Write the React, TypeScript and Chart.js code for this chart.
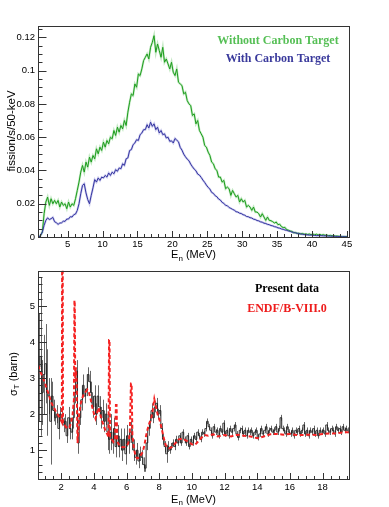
import React, { useEffect, useRef } from "react";
import { Chart, registerables } from "chart.js";
Chart.register(...registerables);

// ---------------- Top panel: fission rate (bins of 0.25 MeV starting at 0.75 MeV)
const TOP_BIN_START = 0.75;
const TOP_BIN_WIDTH = 0.25;
const withoutCarbon = [
  0,
  0.001, 0.003, 0.014, 0.021,
  0.024, 0.019, 0.023, 0.020,
  0.022, 0.020, 0.022, 0.018,
  0.021, 0.019, 0.020, 0.017,
  0.021, 0.018, 0.020, 0.019,
  0.023, 0.028, 0.033, 0.039,
  0.043, 0.039, 0.045, 0.042,
  0.048, 0.045, 0.049, 0.047,
  0.053, 0.050, 0.054, 0.052,
  0.057, 0.054, 0.058, 0.056,
  0.060, 0.059, 0.064, 0.061,
  0.066, 0.063, 0.067, 0.065,
  0.070, 0.067, 0.075, 0.081,
  0.086, 0.085, 0.092, 0.090,
  0.098, 0.097, 0.101, 0.106,
  0.108, 0.110, 0.107, 0.114,
  0.117, 0.121, 0.111, 0.116,
  0.112, 0.108, 0.114, 0.105,
  0.107, 0.104, 0.101, 0.105,
  0.099, 0.097, 0.101, 0.093,
  0.092, 0.091, 0.086, 0.087,
  0.082, 0.080, 0.079, 0.073,
  0.074, 0.068, 0.070, 0.064,
  0.062, 0.060, 0.055, 0.054,
  0.051, 0.049, 0.045, 0.044,
  0.041, 0.040, 0.036, 0.036,
  0.033, 0.034, 0.029, 0.030,
  0.029, 0.025, 0.028, 0.026,
  0.024, 0.025, 0.021, 0.023,
  0.021, 0.022, 0.018, 0.019,
  0.018, 0.016, 0.018, 0.015,
  0.015, 0.014, 0.012, 0.014,
  0.012, 0.010, 0.012, 0.010,
  0.0098, 0.0092, 0.0084, 0.0090,
  0.0074, 0.0077, 0.0062, 0.0057,
  0.0058, 0.0044, 0.0041, 0.0036,
  0.0034, 0.0025, 0.0027, 0.0021,
  0.0023, 0.0018, 0.0021, 0.0016,
  0.0019, 0.0015, 0.0018, 0.0014,
  0.0018, 0.0013, 0.0017, 0.0012,
  0.0016, 0.0011, 0.0014, 0.0010,
  0.0012, 0.0008, 0.0010, 0.0007,
  0.0008, 0.0005, 0.0006, 0.0004,
  0.0004, 0.0002, 0.0003, 0.0002,
  0.0002,
];
const withCarbon = [
  0,
  0.001, 0.003, 0.007, 0.010,
  0.0115, 0.0105, 0.011, 0.0118,
  0.0092, 0.0086, 0.0076, 0.0084,
  0.0085, 0.0095, 0.0094, 0.0108,
  0.0108, 0.0122, 0.0120, 0.0134,
  0.0138, 0.0160, 0.0200, 0.0260,
  0.0310, 0.0320, 0.0265, 0.0225,
  0.0200, 0.0250, 0.0295, 0.0345,
  0.0330, 0.0355, 0.0340, 0.0360,
  0.0355, 0.0370, 0.0360, 0.0385,
  0.0370, 0.0390, 0.0380, 0.0405,
  0.0395, 0.0415, 0.0410, 0.0440,
  0.0430, 0.0470, 0.0475, 0.0520,
  0.0525, 0.0555, 0.0565, 0.0585,
  0.0580, 0.0615, 0.0625, 0.0645,
  0.0645, 0.0675, 0.0655, 0.0690,
  0.0665, 0.0680, 0.0645, 0.0660,
  0.0625, 0.0640, 0.0615, 0.0620,
  0.0595, 0.0600, 0.0575, 0.0578,
  0.0565, 0.0592, 0.0582, 0.0572,
  0.0538, 0.0522, 0.0498, 0.0482,
  0.0468, 0.0458, 0.0438, 0.0422,
  0.0408, 0.0398, 0.0378, 0.0372,
  0.0358, 0.0342, 0.0328, 0.0312,
  0.0298, 0.0288, 0.0268, 0.0262,
  0.0248, 0.0242, 0.0228, 0.0222,
  0.0208, 0.0202, 0.0190, 0.0188,
  0.0177, 0.0172, 0.0166, 0.0161,
  0.0152, 0.0150, 0.0143, 0.0141,
  0.0134, 0.0131, 0.0123, 0.0122,
  0.0116, 0.0114, 0.0107, 0.0105,
  0.0099, 0.0097, 0.0091, 0.0089,
  0.0083, 0.0081, 0.0076, 0.0074,
  0.0069, 0.0067, 0.0062, 0.0060,
  0.0055, 0.0053, 0.0048, 0.0046,
  0.0042, 0.0040, 0.0036, 0.0034,
  0.0029, 0.0028, 0.0024, 0.0023,
  0.0019, 0.0019, 0.0016, 0.0016,
  0.0013, 0.0013, 0.0011, 0.0012,
  0.0010, 0.0010, 0.0008, 0.0009,
  0.0008, 0.0008, 0.0007, 0.0007,
  0.0006, 0.0006, 0.0005, 0.0005,
  0.0004, 0.0004, 0.0003, 0.0003,
  0.0002, 0.0002, 0.0002, 0.0001,
  0.0001,
];
const topXTicks = [5, 10, 15, 20, 25, 30, 35, 40, 45];
const topXLabels = ["5", "10", "15", "20", "25", "30", "35", "40", "45"];
const topYTicks = [0, 0.02, 0.04, 0.06, 0.08, 0.1, 0.12];
const topYLabels = ["0", "0.02", "0.04", "0.06", "0.08", "0.1", "0.12"];

// ---------------- Bottom panel: total cross section (bins of 0.1 MeV starting at 0.6 MeV)
const BOT_BIN_START = 0.6;
const BOT_BIN_WIDTH = 0.1;
const presentData = [
  3.3, 3.6, 2.6, 3.1, 3.4, 2.6, 2.5, 1.8, 2.5, 2.1,
  1.9, 2.0, 1.6, 2.0, 1.9, 1.7, 1.8, 1.4, 1.9, 1.6,
  1.5, 1.9, 2.6, 3.2, 1.2, 1.9, 2.4, 2.8, 2.5, 2.7,
  3.1, 2.9, 2.6, 2.2, 2.5, 2.0, 2.5, 2.2, 1.9, 2.1,
  1.8, 2.0, 1.5, 1.3, 1.5, 1.2, 1.6, 1.1, 1.4, 1.1,
  1.3, 1.0, 1.3, 0.9, 1.4, 1.2, 1.5, 1.3, 1.0, 0.8,
  1.0, 0.7, 0.9, 0.8, 0.6, 0.5, 1.2, 1.6, 1.8, 2.1,
  1.9, 2.2, 2.3, 2.0, 2.1, 1.6, 1.3, 1.1, 0.9, 1.1,
  1.0, 1.1, 1.2, 1.1, 1.3, 1.2, 1.4, 1.2, 1.5, 1.3,
  1.2, 1.4, 1.1, 1.3, 1.2, 1.4, 1.3, 1.5, 1.4, 1.3,
  1.5, 1.45, 1.6, 1.8, 1.65, 1.55, 1.4, 1.65, 1.5, 1.55,
  1.4, 1.6, 1.5, 1.75, 1.45, 1.55, 1.4, 1.6, 1.5, 1.6,
  1.7, 1.45, 1.35, 1.55, 1.6, 1.45, 1.55, 1.4, 1.55, 1.5,
  1.55, 1.4, 1.5, 1.55, 1.35, 1.45, 1.6, 1.45, 1.55, 1.65,
  1.45, 1.55, 1.6, 1.5, 1.55, 1.65, 1.5, 1.6, 1.9, 1.6,
  1.55, 1.45, 1.65, 1.5, 1.45, 1.55, 1.4, 1.55, 1.5, 1.6,
  1.45, 1.55, 1.7, 1.45, 1.55, 1.4, 1.55, 1.5, 1.6, 1.45,
  1.55, 1.4, 1.55, 1.5, 1.55, 1.45, 1.7, 1.55, 1.5, 1.6,
  1.55, 1.45, 1.65, 1.55, 1.6, 1.5, 1.65, 1.55, 1.6, 1.55,
];
const presentErr = [
  1.5, 2.2, 0.9, 1.1, 1.1, 1.2, 0.5, 1.2, 0.4, 0.3,
  0.2, 0.25, 0.3, 0.2, 0.2, 0.2, 0.2, 0.2, 0.3, 0.3,
  0.2, 0.3, 0.3, 0.3, 0.3, 0.2, 0.3, 0.3, 0.2, 0.2,
  0.2, 0.3, 0.3, 0.3, 0.3, 0.3, 0.3, 0.3, 0.3, 0.3,
  0.3, 0.3, 0.5, 0.4, 0.5, 0.3, 0.3, 0.3, 0.3, 0.3,
  0.3, 0.3, 0.3, 0.3, 0.3, 0.3, 0.3, 0.3, 0.3, 0.2,
  0.2, 0.2, 0.2, 0.2, 0.2, 0.1, 0.2, 0.2, 0.2, 0.2,
  0.15, 0.15, 0.15, 0.15, 0.15, 0.15, 0.15, 0.15, 0.25, 0.15,
  0.1, 0.1, 0.1, 0.1, 0.1, 0.08, 0.08, 0.08, 0.08, 0.08,
  0.08, 0.08, 0.08, 0.08, 0.08, 0.08, 0.08, 0.08, 0.08, 0.08,
  0.08, 0.08, 0.08, 0.08, 0.08, 0.08, 0.08, 0.08, 0.08, 0.08,
  0.08, 0.08, 0.08, 0.08, 0.08, 0.08, 0.08, 0.08, 0.08, 0.08,
  0.08, 0.08, 0.08, 0.08, 0.08, 0.08, 0.08, 0.08, 0.08, 0.08,
  0.08, 0.08, 0.08, 0.08, 0.08, 0.08, 0.08, 0.08, 0.08, 0.08,
  0.08, 0.08, 0.08, 0.08, 0.08, 0.08, 0.08, 0.08, 0.08, 0.08,
  0.08, 0.08, 0.08, 0.08, 0.08, 0.08, 0.08, 0.08, 0.08, 0.08,
  0.08, 0.08, 0.08, 0.08, 0.08, 0.08, 0.08, 0.08, 0.08, 0.08,
  0.08, 0.08, 0.08, 0.08, 0.08, 0.08, 0.08, 0.08, 0.08, 0.08,
  0.08, 0.08, 0.08, 0.08, 0.08, 0.08, 0.08, 0.08, 0.08, 0.08,
];
const endfE = [
  0.6, 0.7, 0.8, 0.9, 1.0, 1.1, 1.2, 1.3, 1.4, 1.5, 1.6, 1.7, 1.8, 1.9, 2.0,
  2.04, 2.06, 2.09, 2.11, 2.2, 2.3, 2.4, 2.5, 2.6, 2.7, 2.78, 2.81, 2.83, 2.86,
  2.9, 2.95, 3.0, 3.05, 3.1, 3.2, 3.3, 3.4, 3.5, 3.6, 3.7, 3.8, 3.9, 4.0, 4.1,
  4.2, 4.3, 4.4, 4.5, 4.6, 4.7, 4.8, 4.9, 4.93, 4.96, 4.99, 5.1, 5.2, 5.3, 5.35,
  5.39, 5.43, 5.5, 5.6, 5.7, 5.8, 5.9, 6.0, 6.1, 6.2, 6.27, 6.31, 6.36, 6.45,
  6.55, 6.65, 6.8, 6.9, 7.0, 7.1, 7.2, 7.3, 7.4, 7.5, 7.6, 7.7, 7.8, 7.9, 8.0,
  8.1, 8.2, 8.3, 8.4, 8.5, 8.6, 8.8, 9.0, 9.2, 9.4, 9.6, 9.8, 10.0, 10.2, 10.4,
  10.6, 10.8, 11.0, 11.3, 11.6, 12.0, 12.4, 12.8, 13.2, 13.6, 14.0, 14.4, 14.8,
  15.2, 15.6, 16.0, 16.4, 16.8, 17.2, 17.6, 18.0, 18.4, 18.8, 19.2, 19.6,
];
const endfSigma = [
  3.35, 3.2, 3.1, 2.98, 2.87, 2.72, 2.6, 2.45, 2.32, 2.22, 2.14, 2.05, 1.98, 1.9, 1.82,
  1.78, 7.0, 7.0, 1.72, 1.7, 1.64, 1.6, 1.63, 1.75, 2.0, 2.4, 5.15, 5.15, 2.9,
  3.3, 2.8, 1.2, 1.5, 2.0, 2.3, 2.45, 2.58, 2.62, 2.68, 2.6, 2.42, 2.2, 2.02, 1.88,
  2.05, 2.18, 1.98, 1.82, 1.68, 1.55, 1.46, 1.37, 4.06, 4.06, 1.38, 1.3, 1.23, 1.3, 2.25,
  2.25, 1.25, 1.18, 1.12, 1.09, 1.08, 1.09, 1.12, 1.18, 1.45, 2.85, 2.85, 1.4, 1.05,
  0.85, 0.77, 0.8, 0.88, 0.96, 1.15, 1.41, 1.6, 1.75, 1.85, 2.1, 2.42, 2.2, 2.0, 1.87,
  1.7, 1.5, 1.3, 1.14, 1.08, 1.05, 1.09, 1.2, 1.3, 1.32, 1.28, 1.23, 1.16, 1.15, 1.25,
  1.35, 1.42, 1.4, 1.44, 1.38, 1.42, 1.38, 1.43, 1.4, 1.38, 1.33, 1.38, 1.44,
  1.45, 1.43, 1.45, 1.42, 1.42, 1.43, 1.42, 1.45, 1.46, 1.47, 1.49, 1.5,
];
const botXTicks = [2, 4, 6, 8, 10, 12, 14, 16, 18];
const botXLabels = ["2", "4", "6", "8", "10", "12", "14", "16", "18"];
const botYTicks = [1, 2, 3, 4, 5];
const botYLabels = ["1", "2", "3", "4", "5"];

const SANS = '"Liberation Sans", Arial, Helvetica, sans-serif';
const SERIF = '"Liberation Serif", "Times New Roman", serif';

type Part = [string, number, number];

function drawRich(ctx: CanvasRenderingContext2D, parts: Part[], x: number, y: number) {
  let total = 0;
  const widths: number[] = [];
  for (const [t, size] of parts) {
    ctx.font = `${size}px ${SANS}`;
    const w = ctx.measureText(t).width;
    widths.push(w);
    total += w;
  }
  let cx = x - total / 2;
  parts.forEach(([t, size, dy], i) => {
    ctx.font = `${size}px ${SANS}`;
    ctx.fillText(t, cx, y + dy);
    cx += widths[i];
  });
}

type Deco = {
  xMajor: number; xMinor: number; yMajor: number; yMinor: number;
  xMajLen: number; xMinLen: number; yMajLen: number; yMinLen: number;
  xTitle: Part[]; xTitleY: number;
  yTitle: Part[]; yTitleX: number; yTitleY: number;
  legend: { text: string; color: string; x: number; y: number }[];
  errors?: boolean;
};

function isMajor(v: number, step: number) {
  const r = v / step;
  return Math.abs(r - Math.round(r)) < 1e-6;
}

function makeDecoPlugin(d: Deco) {
  return {
    id: "rootDeco",
    beforeDatasetsDraw(chart: any) {
      if (!d.errors) return;
      const { ctx, chartArea: a } = chart;
      const xs = chart.scales.x, ys = chart.scales.y;
      ctx.save();
      ctx.beginPath();
      ctx.rect(a.left, a.top, a.right - a.left, a.bottom - a.top);
      ctx.clip();
      ctx.strokeStyle = "#666";
      ctx.lineWidth = 1;
      ctx.beginPath();
      presentData.forEach((v, i) => {
        const e = presentErr[i];
        const cx = Math.round(xs.getPixelForValue(BOT_BIN_START + (i + 0.5) * BOT_BIN_WIDTH)) + 0.5;
        ctx.moveTo(cx, ys.getPixelForValue(v - e));
        ctx.lineTo(cx, ys.getPixelForValue(v + e));
      });
      ctx.stroke();
      ctx.restore();
    },
    afterDraw(chart: any) {
      const { ctx, chartArea: a } = chart;
      const xs = chart.scales.x, ys = chart.scales.y;
      ctx.save();
      ctx.strokeStyle = "#333";
      ctx.lineWidth = 1;
      ctx.beginPath();
      for (let k = Math.ceil(xs.min / d.xMinor - 1e-6); k * d.xMinor <= xs.max + 1e-9; k++) {
        const v = k * d.xMinor;
        const px = Math.round(xs.getPixelForValue(v)) + 0.5;
        ctx.moveTo(px, a.bottom);
        ctx.lineTo(px, a.bottom - (isMajor(v, d.xMajor) ? d.xMajLen : d.xMinLen));
      }
      for (let k = Math.ceil(ys.min / d.yMinor - 1e-6); k * d.yMinor <= ys.max + 1e-9; k++) {
        const v = k * d.yMinor;
        const py = Math.round(ys.getPixelForValue(v)) + 0.5;
        ctx.moveTo(a.left, py);
        ctx.lineTo(a.left + (isMajor(v, d.yMajor) ? d.yMajLen : d.yMinLen), py);
      }
      ctx.stroke();
      const l = Math.round(a.left), t = Math.round(a.top), r = Math.round(a.right), b = Math.round(a.bottom);
      ctx.strokeRect(l + 0.5, t + 0.5, r - l, b - t);

      ctx.fillStyle = "#000";
      ctx.textAlign = "left";
      ctx.textBaseline = "alphabetic";
      drawRich(ctx, d.xTitle, (a.left + a.right) / 2, d.xTitleY);
      ctx.save();
      ctx.translate(d.yTitleX, d.yTitleY);
      ctx.rotate(-Math.PI / 2);
      drawRich(ctx, d.yTitle, 0, 0);
      ctx.restore();

      ctx.font = `bold 12px ${SERIF}`;
      ctx.textAlign = "center";
      ctx.textBaseline = "middle";
      for (const lg of d.legend) {
        ctx.fillStyle = lg.color;
        ctx.fillText(lg.text, lg.x, lg.y);
      }
      ctx.restore();
    },
  };
}

function scaleCommon(labels: string[], ticks: number[], fit: (s: any) => void, pad: number) {
  return {
    type: "linear" as const,
    grid: { display: false, drawTicks: false },
    border: { display: false },
    ticks: {
      font: { family: SANS, size: 9.5 },
      color: "#000",
      padding: pad,
      maxRotation: 0,
      autoSkip: false,
      callback: (_v: any, i: number) => labels[i],
    },
    afterBuildTicks: (s: any) => {
      s.ticks = ticks.map((v) => ({ value: v }));
    },
    afterFit: fit,
  };
}

export default function App() {
  const topRef = useRef<HTMLCanvasElement>(null);
  const botRef = useRef<HTMLCanvasElement>(null);

  useEffect(() => {
    const green = withoutCarbon.map((v, i) => ({ x: TOP_BIN_START + (i + 0.5) * TOP_BIN_WIDTH, y: v }));
    const blue = withCarbon.map((v, i) => ({ x: TOP_BIN_START + (i + 0.5) * TOP_BIN_WIDTH, y: v }));

    const c1 = new Chart(topRef.current as HTMLCanvasElement, {
      type: "line",
      data: {
        datasets: [
          { data: blue, borderColor: "#3434a0", borderWidth: 1, pointRadius: 0, tension: 0, order: 1 },
          { data: green, borderColor: "#1c9c1c", borderWidth: 1, pointRadius: 0, tension: 0, order: 2 },
          { data: blue, borderColor: "rgba(140,140,215,0.45)", borderWidth: 2.2, pointRadius: 0, tension: 0, order: 3 },
          { data: green, borderColor: "rgba(120,205,120,0.45)", borderWidth: 2.2, pointRadius: 0, tension: 0, order: 4 },
        ],
      },
      options: {
        responsive: false,
        animation: false,
        devicePixelRatio: 1,
        layout: { padding: { top: 26, right: 40, left: 0, bottom: 0 } },
        plugins: { legend: { display: false }, tooltip: { enabled: false } },
        scales: {
          x: { ...scaleCommon(topXLabels, topXTicks, (s: any) => { s.height = 25; }, 2), min: 0.75, max: 45.3 },
          y: { ...scaleCommon(topYLabels, topYTicks, (s: any) => { s.width = 38; }, 3), min: 0, max: 0.1268 },
        },
      } as any,
      plugins: [
        makeDecoPlugin({
          xMajor: 5, xMinor: 1, yMajor: 0.02, yMinor: 0.005,
          xMajLen: 6, xMinLen: 3, yMajLen: 8.5, yMinLen: 4.5,
          xTitle: [["E", 11, 0], ["n", 8, 2.5], [" (MeV)", 11, 0]], xTitleY: 258,
          yTitle: [["fission/s/50-keV", 11.5, 0]], yTitleX: 14.5, yTitleY: 131,
          legend: [
            { text: "Without Carbon Target", color: "#55bf55", x: 278, y: 41 },
            { text: "With Carbon Target", color: "#3a3a9c", x: 278, y: 59 },
          ],
        }),
      ],
    });

    const black = presentData.map((v, i) => ({ x: BOT_BIN_START + (i + 0.5) * BOT_BIN_WIDTH, y: v }));
    const red = endfE.map((e, i) => ({ x: e, y: endfSigma[i] }));

    const c2 = new Chart(botRef.current as HTMLCanvasElement, {
      type: "line",
      data: {
        datasets: [
          { data: red, borderColor: "#f52222", borderWidth: 2, borderDash: [4, 2.5], pointRadius: 0, tension: 0, order: 1 },
          { data: black, borderColor: "#262626", borderWidth: 1, stepped: "middle", pointRadius: 0, order: 2 },
        ],
      },
      options: {
        responsive: false,
        animation: false,
        devicePixelRatio: 1,
        layout: { padding: { top: 7, right: 40, left: 0, bottom: 0 } },
        plugins: { legend: { display: false }, tooltip: { enabled: false } },
        scales: {
          x: { ...scaleCommon(botXLabels, botXTicks, (s: any) => { s.height = 28; }, 3), min: 0.58, max: 19.62 },
          y: { ...scaleCommon(botYLabels, botYTicks, (s: any) => { s.width = 38; }, 3), min: 0.2, max: 5.98 },
        },
      } as any,
      plugins: [
        makeDecoPlugin({
          xMajor: 2, xMinor: 0.5, yMajor: 1, yMinor: 0.2,
          xMajLen: 6, xMinLen: 3, yMajLen: 9, yMinLen: 4.5,
          xTitle: [["E", 11, 0], ["n", 8, 2.5], [" (MeV)", 11, 0]], xTitleY: 240.5,
          yTitle: [["σ", 11, 0], ["T", 8, 2.5], [" (barn)", 11, 0]], yTitleX: 16.5, yTitleY: 112,
          legend: [
            { text: "Present data", color: "#000", x: 287, y: 26.5 },
            { text: "ENDF/B-VIII.0", color: "#ee1c1c", x: 287, y: 46.5 },
          ],
          errors: true,
        }),
      ],
    });

    return () => {
      c1.destroy();
      c2.destroy();
    };
  }, []);

  return (
    <div style={{ position: "absolute", left: 0, top: 0, width: 389, height: 507, background: "#fff" }}>
      <canvas ref={topRef} width={389} height={262} style={{ position: "absolute", left: 0, top: 0 }} />
      <canvas ref={botRef} width={389} height={245} style={{ position: "absolute", left: 0, top: 262 }} />
    </div>
  );
}
